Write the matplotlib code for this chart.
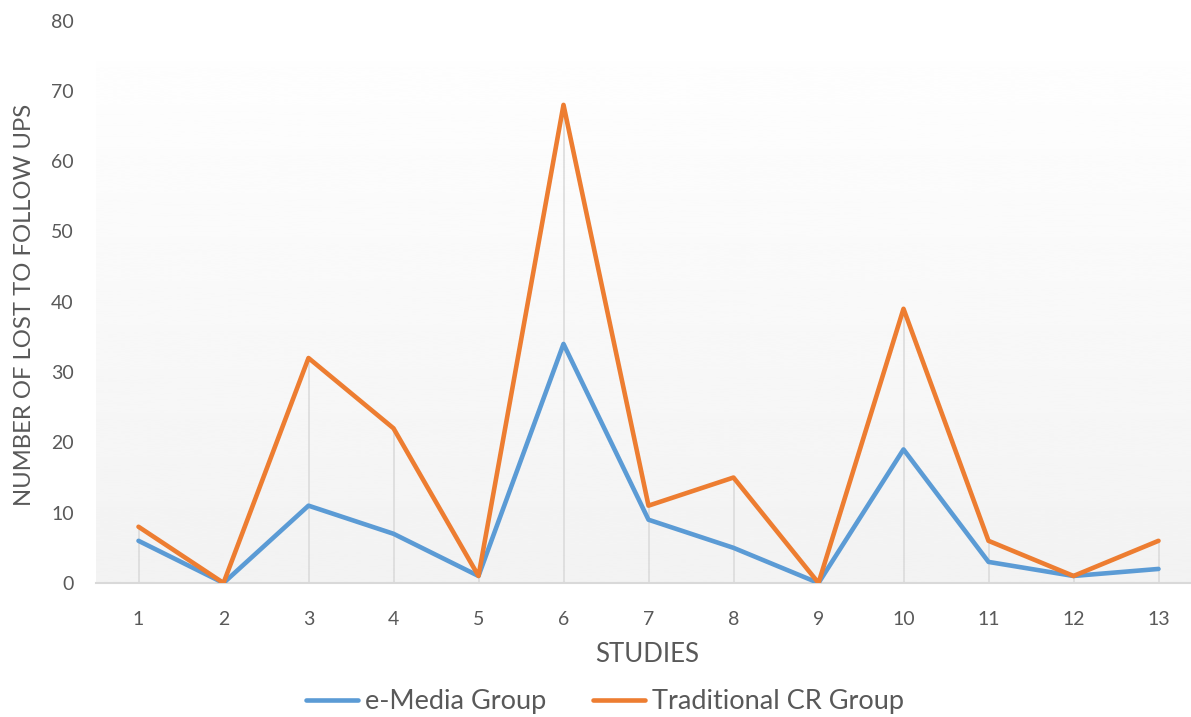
import matplotlib
matplotlib.use("Agg")
import matplotlib.pyplot as plt
import numpy as np

plt.rcParams['font.family'] = ['Lato', 'DejaVu Sans']

studies = list(range(1, 14))
emedia = [6, 0, 11, 7, 1, 34, 9, 5, 0, 19, 3, 1, 2]
traditional = [8, 0, 32, 22, 1, 68, 11, 15, 0, 39, 6, 1, 6]
series_names = ["e-Media Group", "Traditional CR Group"]

blue = "#5B9BD5"
orange = "#ED7D31"
text_c = "#595959"
grid_c = "#d9d9d9"

W, H = 1191, 717
fig = plt.figure(figsize=(W / 100, H / 100), dpi=100)
ax_l, ax_b, ax_t = 96, 583, 20.5
ax = fig.add_axes([ax_l / W, 1 - ax_b / H, 1 - ax_l / W, (ax_b - ax_t) / H])

# category slots are 85 px wide; the plot runs off the right edge
xmin = 0.5
xmax = xmin + (W - ax_l) / 85
ymin, ymax = 0, 80
ax.set_xlim(xmin, xmax)
ax.set_ylim(ymin, ymax)

# soft vertical gradient behind the plot
grad = np.linspace(1.0, 0.95, 256).reshape(-1, 1)
ax.imshow(grad, extent=[xmin, xmax, ymin, ymax], aspect="auto", cmap="gray",
          vmin=0, vmax=1, origin="upper", zorder=0, interpolation="bicubic")

# drop lines from the axis to the higher of the two values
tops = np.maximum(emedia, traditional)
ax.vlines(studies, 0, tops, colors=grid_c, lw=1.1, zorder=1)

ax.plot(studies, emedia, color=blue, lw=3.3, label=series_names[0], zorder=3,
        solid_joinstyle="round", solid_capstyle="round")
ax.plot(studies, traditional, color=orange, lw=3.3, label=series_names[1], zorder=4,
        solid_joinstyle="round", solid_capstyle="round")

for side in ["top", "right", "left"]:
    ax.spines[side].set_visible(False)
ax.spines["bottom"].set_color(grid_c)
ax.spines["bottom"].set_linewidth(1.5)
ax.spines["bottom"].set_zorder(2)

ax.set_xticks(studies)
ax.set_xticklabels([str(s) for s in studies])
ax.set_yticks(range(0, 81, 10))
ax.tick_params(axis="both", length=0, labelsize=14, colors=text_c)
ax.tick_params(axis="x", pad=20)
ax.tick_params(axis="y", pad=16)

pw, ph = W - ax_l, ax_b - ax_t
ax.set_xlabel("STUDIES", fontsize=18.5, color=text_c, va="center")
ax.xaxis.set_label_coords((647 - ax_l) / pw, -(654 - ax_b) / ph)
ax.set_ylabel("NUMBER OF LOST TO FOLLOW UPS", fontsize=17.2, color=text_c, va="center")
ax.yaxis.set_label_coords(-(ax_l - 25) / pw, (ax_b - 305) / ph)

leg = fig.legend(loc="center", bbox_to_anchor=(605 / W, 1 - 702 / H), ncol=2,
                 frameon=False, fontsize=19.5, handlelength=1.9, columnspacing=1.75,
                 handletextpad=0.25)
for t in leg.get_texts():
    t.set_color(text_c)

fig.savefig("out.png", dpi=100)
